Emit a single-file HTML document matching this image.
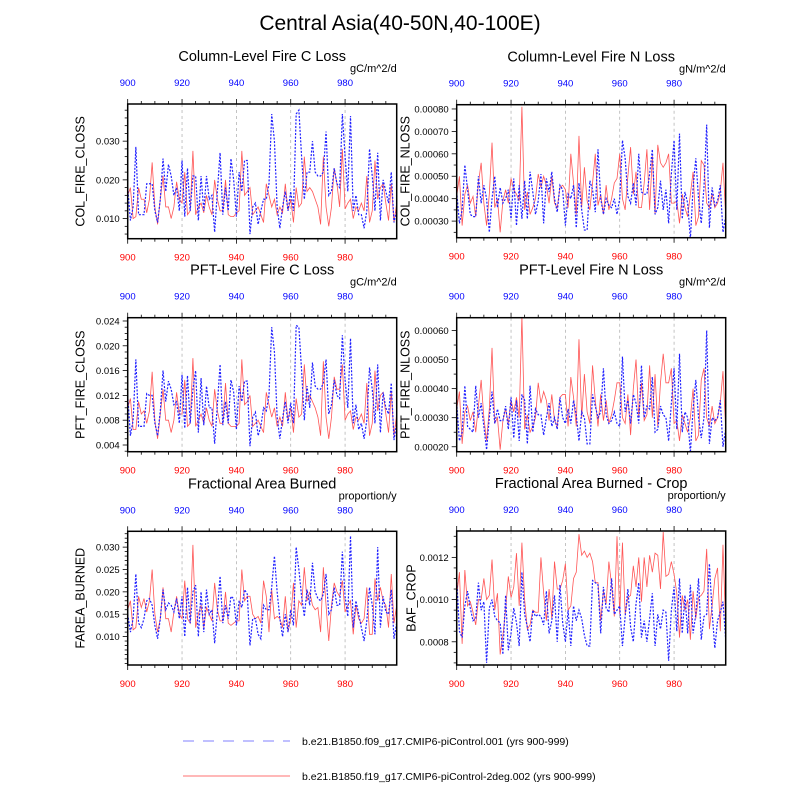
<!DOCTYPE html>
<html><head><meta charset="utf-8"><style>
body{margin:0;background:#fff;font-family:"Liberation Sans",sans-serif}
svg text{font-family:"Liberation Sans",sans-serif}
</style></head><body>
<svg id="chart" width="800" height="800" viewBox="0 0 800 800" xmlns="http://www.w3.org/2000/svg">
<text x="400" y="30" text-anchor="middle" font-size="21">Central Asia(40-50N,40-100E)</text>
<g id="panels"></g>
<g>
<line x1="183" y1="741" x2="290" y2="741" stroke="#8080ff" stroke-width="1" stroke-dasharray="11,9"/>
<text x="302" y="745" font-size="10.5">b.e21.B1850.f09_g17.CMIP6-piControl.001 (yrs 900-999)</text>
<line x1="183" y1="776" x2="290" y2="776" stroke="#ff7070" stroke-width="1"/>
<text x="302" y="780" font-size="10.5">b.e21.B1850.f19_g17.CMIP6-piControl-2deg.002 (yrs 900-999)</text>
</g>
</svg>
<script>
const years = Array.from({length:100},(_,i)=>900+i);
const xTicks = [900,920,940,960,980];
// values in display units; multiply by unit scale
const colC_blue=[18,9.5,13,28.5,11,11,11,19,19,19,12,9,15,25.5,17,24,21,16,18,12,25,10.5,23,12,21,21,9.5,21,12,21,15,16,6.5,17,27,11,18,12,25.5,20,10.5,22,17,25,25,6,13,14,8.5,12,15,15,19,37,30,13,7.5,13,17,12,17,12,37,38,26,15,22,22,30,22,21,21,22,32.5,16,17,23,19,18,37,26,17,36.5,12,16,11,11,7.5,12,28,21,12,27,9.5,20,17,14,22,9,12];
const colC_red=[16,18,10,10.5,18,15,15,11.5,15,24.5,13,8.5,15,21,13,13,10,13,19.5,15,14,22,11,12,27.5,11,13,14,11.5,16,13,11,20,15,12,12,20,11,10.5,10.5,11.5,12,27.5,16,17,18,11,12,13,11,9,19,16,13,15,11,13,11.5,19,12,15,9,18,13,14,26,17,18,17,15,13,8.5,26,13,8,13,23,19,13,28,12.5,14,15,10,13,12,14,12,21,9,12,25,15,18,19,14,9.5,19,9,14];
const colN_blue=[43,29,35,55,44,33,32,32,50,38,46,40,25,40,50,36,45,38,40,44,31,49,28,46,31,48,31,52,43,33,39,51,29,49,43,52,40,34,46,44,28,42,40,46,27,47,35,26,26,48,44,34,62,40,33,40,37,36,40,33,40,66,58,41,38,47,37,60,43,42,42,51,62,33,36,48,35,44,29,51,66,35,69,31,43,38,22,45,58,40,29,45,73,27,45,37,39,46,25,32];
const colN_red=[41,50,28,42,46,38,41,32,47,56,38,28,42,65,36,40,25,39,44,38,49,44,42,39,81,35,43,33,36,40,51,45,50,46,38,50,38,36,45,46,44,36,60,47,33,68,36,54,39,35,47,60,37,42,33,46,35,40,47,49,60,40,35,50,63,42,52,36,36,47,62,35,59,33,64,56,54,56,60,38,38,39,29,42,36,32,42,52,28,32,57,55,38,36,42,36,38,43,56,32];
const pftC_blue=[12,5.5,8,17.8,7,7,7,12.3,12,12,7.5,5.5,9.5,16,11,14.3,13,10.5,11,7.5,15.3,6.7,15.2,7.5,13,16,6,14.8,7.2,13.5,10,10,4.2,10.5,17,7.2,11,7.5,14.5,12.5,6.5,13.5,11,14.3,14.3,3.8,8.5,9.3,5.5,7,10,9.5,12,23,19,8.5,5,8.3,11,7.5,10.8,7.5,23.3,23,16,8,13.5,10,17.3,13.5,13,13,14,17.8,9,10.5,14.5,12,11.5,21.7,14.5,10,21.2,7.5,10.5,6.5,7.5,5,8,16.5,13,7.5,17,6,12.5,10,9,14,4.8,7.5];
const pftC_red=[10,11.5,6.5,6.5,11,9,9.5,7.5,9.5,15.8,8,5,9,13,8,8,6,8,12.5,9,9,14.5,7,7.5,18,7,8,9,7.5,10,8,7,13,9.5,7.5,7.5,14,7.5,7,7,7,7.5,17.8,10.5,11,12,7,7.5,8,7,6,12.5,10.5,8.5,10,7,8.5,7,12.5,8,10,6,11.5,8.5,9,17,11,12,11,10,8.5,5.5,17.5,8.5,5,8.5,15,13,13,17,8,9,9.5,6.5,8.5,8,9,7.5,14,5.5,7.5,16,9.5,12,12.5,9,6,12.5,5.5,9];
const pftN_blue=[35,22,25,41,27,26,25,41,30,35,27,19,30,39,28,33,29,29,34,26,37,23,36,22,38,36,21,41,25,33,31,31,24,30,35,27,30,26,37,30,28,33,28,36,31,22,32,30,21,21,38,34,30,32,47,31,28,29,32,28,27,51,32,36,28,38,35,28,48,30,34,33,44,25,26,34,31,30,22,35,47,26,52,25,32,30,18,33,43,30,23,30,60,21,30,29,30,36,20,26];
const pftN_red=[33,39,21,32,34,29,32,25,34,43,30,22,33,54,28,30,19,29,33,28,36,32,37,30,65,26,31,25,27,30,42,35,39,36,29,38,29,27,37,38,38,27,44,37,27,57,30,45,32,28,48,36,27,38,29,36,28,31,36,42,42,30,28,38,24,40,50,30,42,29,31,48,30,45,27,42,52,42,42,47,28,29,22,31,28,25,30,40,22,24,43,47,30,27,34,28,30,35,46,26];
const farea_blue=[15,11,14,24,13,12,14,18,18.5,17,12.5,9.5,14,20.5,16,17.5,17,15.5,18.5,14,19,10,21,13,20,21.5,10,20,11,20.5,15,16,8.5,15.5,23.5,13,17,14,19,18.5,12.5,18,16.5,20.5,19.5,8,14,14,10.5,9.5,17,16,16,21,28,20,14,10,15,11,16,12.5,30,25,19,14.5,20.5,17,26.5,20,18.5,18,19.5,24,15,16,21,17,17,29,19,14.5,32.5,12,18,15,12,9,13.5,21,17,10.5,30,12,19,15.5,15,20.5,9.5,13];
const farea_red=[16,18,11.5,12,19,16.5,18.5,15.5,18,25,15,11,14,21,14,14,11,15.5,19,15,14,22.5,14,13,30.5,12,15,17,12,16.5,15,13.5,22,16,13.5,13.5,20,13,12.5,13,13.5,13.5,25,18,19,19,15,14,14.5,13,22.5,19,11,20.5,14,14.5,14,12,19,11,14,22,12,18,17,25.5,18,20,17,16,16.5,11,25.5,17,9,17,22,20,19,22.5,15.5,17,18,10.5,17,14,13,14,21,10.5,10.5,23,18,21,18,17,12,24,13,17];
const baf_blue=[110,85,82,97,104,96,90,91,108,95,99,70,96,100,92,90,89,74,102,76,84,96,89,78,113,93,87,80,95,92,93,92,88,104,84,90,102,80,107,89,80,95,78,97,90,95,91,83,78,78,109,108,107,84,106,96,94,110,93,95,97,78,92,105,87,80,98,108,82,90,80,91,103,78,93,86,95,94,71,95,106,85,110,84,102,84,107,84,93,110,81,92,93,117,94,77,90,94,99,81];
const baf_red=[102,113,79,114,97,99,94,88,100,100,110,100,102,119,95,103,74,83,95,111,101,106,122,97,127,100,86,88,95,94,94,120,103,90,105,91,118,105,105,109,117,95,97,110,113,131,121,123,120,122,118,108,108,90,104,98,118,107,92,130,93,127,93,101,102,116,106,120,99,120,106,121,113,122,121,105,132,111,112,118,112,103,82,102,95,100,81,104,91,101,102,104,124,86,97,110,115,85,126,87];

const panels=[
 {name:'col-fire-closs',title:'Column-Level Fire C Loss',yt:'COL_FIRE_CLOSS',units:'gC/m^2/d',x0:127.7,top:104,bot:238.7,ymax:0.0396,ymin:0.0048,ticks:[0.010,0.020,0.030],minor:0.002,dec:3,scale:1e-3,b:colC_blue,r:colC_red,yto:47},
 {name:'col-fire-nloss',title:'Column-Level Fire N Loss',yt:'COL_FIRE_NLOSS',units:'gN/m^2/d',x0:456.7,top:104.7,bot:237.7,ymax:0.000819,ymin:0.000226,ticks:[0.0003,0.0004,0.0005,0.0006,0.0007,0.0008],minor:0.00005,dec:5,scale:1e-5,b:colN_blue,r:colN_red,yto:51},
 {name:'pft-fire-closs',title:'PFT-Level Fire C Loss',yt:'PFT_FIRE_CLOSS',units:'gC/m^2/d',x0:127.7,top:317.7,bot:451.7,ymax:0.02453,ymin:0.00292,ticks:[0.004,0.008,0.012,0.016,0.020,0.024],minor:0.001,dec:3,scale:1e-3,b:pftC_blue,r:pftC_red,yto:47},
 {name:'pft-fire-nloss',title:'PFT-Level Fire N Loss',yt:'PFT_FIRE_NLOSS',units:'gN/m^2/d',x0:456.7,top:317.7,bot:451.7,ymax:0.000644,ymin:0.000183,ticks:[0.0002,0.0003,0.0004,0.0005,0.0006],minor:0.00005,dec:5,scale:1e-5,b:pftN_blue,r:pftN_red,yto:51},
 {name:'farea-burned',title:'Fractional Area Burned',yt:'FAREA_BURNED',units:'proportion/y',x0:127.7,top:531.3,bot:665,ymax:0.03354,ymin:0.00364,ticks:[0.010,0.015,0.020,0.025,0.030],minor:0.001,dec:3,scale:1e-3,b:farea_blue,r:farea_red,yto:47},
 {name:'baf-crop',title:'Fractional Area Burned - Crop',yt:'BAF_CROP',units:'proportion/y',x0:456.7,top:531,bot:665,ymax:0.001325,ymin:0.000690,ticks:[0.0008,0.0010,0.0012],minor:0.00005,dec:4,scale:1e-5,b:baf_blue,r:baf_red,yto:45}
];
const W=269, NS='http://www.w3.org/2000/svg';
const root=document.getElementById('panels');
function mk(tag,attrs,parent){const e=document.createElementNS(NS,tag);for(const k in attrs)e.setAttribute(k,attrs[k]);(parent||root).appendChild(e);return e;}
panels.forEach(p=>{
 const g=mk('g',{});
 
 
 const xs=y=>p.x0+(y-900)/99*W;
 const ys=v=>p.top+(p.ymax-v)/(p.ymax-p.ymin)*(p.bot-p.top);
 const cx=p.x0+W/2;
 let t=mk('text',{x:cx,y:p.top-43,'text-anchor':'middle','font-size':14.5},g);t.textContent=p.title;
 
 
 t=mk('text',{x:p.x0+W,y:p.top-32,'text-anchor':'end','font-size':11},g);t.textContent=p.units;
 
 
 xTicks.slice(1).forEach(v=>{const l=mk('line',{x1:xs(v),x2:xs(v),y1:p.top,y2:p.bot,stroke:'#aaa','stroke-width':0.7,'stroke-dasharray':'3,3'},g);
  
  });
 for(let v=900;v<=999;v+=5){const major=v%20===0;const L=major?5:3;
  mk('line',{x1:xs(v),x2:xs(v),y1:p.top,y2:p.top-L,stroke:'#000','stroke-width':0.8},g);
  mk('line',{x1:xs(v),x2:xs(v),y1:p.bot,y2:p.bot+L,stroke:'#000','stroke-width':0.8},g);}
 xTicks.forEach(v=>{
  let a=mk('text',{x:xs(v),y:p.top-18,'text-anchor':'middle','font-size':9.5,fill:'#0000ff'},g);a.textContent=v;
  
  
  let b=mk('text',{x:xs(v),y:p.bot+22,'text-anchor':'middle','font-size':9.5,fill:'#ff0000'},g);b.textContent=v;
  
  });
 const n0=Math.ceil(p.ymin/p.minor-1e-6), n1=Math.floor(p.ymax/p.minor+1e-6);
 for(let k=n0;k<=n1;k++){const v=k*p.minor;const major=p.ticks.some(tk=>Math.abs(tk-v)<p.minor/10);
  mk('line',{x1:p.x0,x2:p.x0-(major?5:3),y1:ys(v),y2:ys(v),stroke:'#000','stroke-width':0.8},g);}
 p.ticks.forEach(v=>{const a=mk('text',{x:p.x0-8,y:ys(v)+3.5,'text-anchor':'end','font-size':9.5},g);a.textContent=v.toFixed(p.dec);
  
  });
 t=mk('text',{transform:`translate(${p.x0-p.yto+4},${(p.top+p.bot)/2}) rotate(-90)`,'text-anchor':'middle','font-size':12.5},g);t.textContent=p.yt;
 
 
 const cid='c'+p.name;const cp=mk('clipPath',{id:cid},g);mk('rect',{x:p.x0,y:p.top,width:W,height:p.bot-p.top},cp);
 const path=arr=>arr.map((v,i)=>(i?'L':'M')+xs(years[i]).toFixed(2)+','+ys(v*p.scale).toFixed(2)).join('');
 let r=mk('path',{d:path(p.r),fill:'none',stroke:'#ff5555','stroke-width':0.8,'clip-path':`url(#${cid})`},g);
 
 
 let bl=mk('path',{d:path(p.b),fill:'none',stroke:'#2020ff','stroke-width':1.2,'stroke-dasharray':'2,1.5','clip-path':`url(#${cid})`},g);
 
 
 let fr=mk('rect',{x:p.x0,y:p.top,width:W,height:p.bot-p.top,fill:'none',stroke:'#000','stroke-width':1.5},g);
 
 
});
</script>
</body></html>
